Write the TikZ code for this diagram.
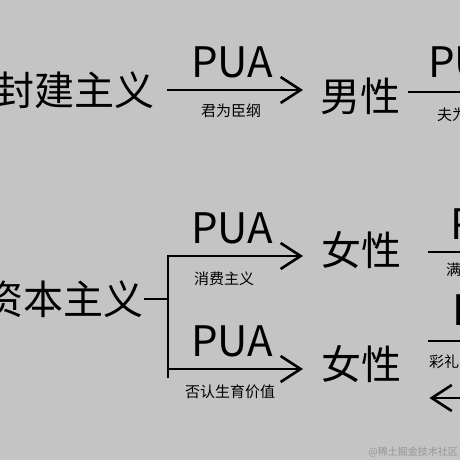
\documentclass[tikz,border=0pt]{standalone}
\usepackage{fontspec}
\setmainfont{Noto Sans CJK SC}
\usetikzlibrary{arrows.meta}

\definecolor{bggray}{RGB}{196,196,196}
\definecolor{markgray}{RGB}{150,150,150}

\tikzset{
    big/.style={font=\fontsize{40}{40}\selectfont, inner sep=0pt},
    pua/.style={font=\fontsize{42}{42}\selectfont, inner sep=0pt},
    small/.style={font=\fontsize{15}{15}\selectfont, inner sep=0pt},
    link/.style={line width=2.6pt},
    arr/.style={link, -{Straight Barb[length=20pt,width=26pt]}}
}

\begin{document}
\begin{tikzpicture}[x=1pt,y=1pt]
        \useasboundingbox (0,0) rectangle (460,-460);
        \clip (0,0) rectangle (460,-460);
        \fill[bggray] (0,0) rectangle (460,-460);

        \node[big, anchor=east] (feudal) at (155,-90) {封建主义};
        \node[big, anchor=west] (male) at (320,-96) {男性};
        \draw[arr, shorten <=12pt, shorten >=17pt] (feudal.east) -- (feudal.east -| male.west);
        \node[pua] (pua1) at (232,-62) {PUA};
        \node[small] (rule1) at (231,-111) {君为臣纲};

        \coordinate (out1) at (480,-92);
        \draw[link, shorten <=8pt] (male.east |- out1) -- (out1);
        \node[pua, anchor=west] (pua2) at (428,-62) {PUA};
        \node[small, anchor=west] (rule2) at (437,-115) {夫为};

        \node[big, anchor=east] (capital) at (144,-299) {资本主义};
        \node[big, anchor=west] (female1) at (321,-250) {女性};
        \node[big, anchor=west] (female2) at (321,-364) {女性};
        \coordinate (top) at (168,-256);
        \coordinate (mid) at (168,-299);
        \coordinate (low) at (168,-369);
        \coordinate (end) at (168,-378);
        \draw[link] (capital.east) -- (mid);
        \draw[arr, line join=miter, shorten >=18pt] (end) -- (top) -- (top -| female1.west);
        \draw[arr, shorten >=18pt] (low) -- (low -| female2.west);
        \node[pua] (pua3) at (232,-228) {PUA};
        \node[small] (rule3) at (224,-279) {消费主义};
        \node[pua] (pua4) at (232,-341) {PUA};
        \node[small] (rule4) at (230,-392) {否认生育价值};

        \coordinate (out2) at (480,-252);
        \draw[link, shorten <=27pt] (female1.east |- out2) -- (out2);
        \node[pua, anchor=west] (pua5) at (450,-224) {PUA};
        \node[small, anchor=west] (rule5) at (446,-270) {满};

        \coordinate (out3) at (480,-341);
        \draw[link, shorten <=27pt] (female2.east |- out3) -- (out3);
        \node[pua, anchor=west] (pua6) at (452,-310) {PUA};
        \node[small, anchor=west] (rule6) at (429,-362) {彩礼};
        \coordinate (in3) at (480,-398);
        \draw[arr, shorten >=28pt] (in3) -- (in3 -| female2.east);

        \node[font=\fontsize{10}{10}\selectfont, text=markgray, anchor=east, inner sep=0pt] (mark) at (458,-452) {@稀土掘金技术社区};
    \end{tikzpicture}
\end{document}
